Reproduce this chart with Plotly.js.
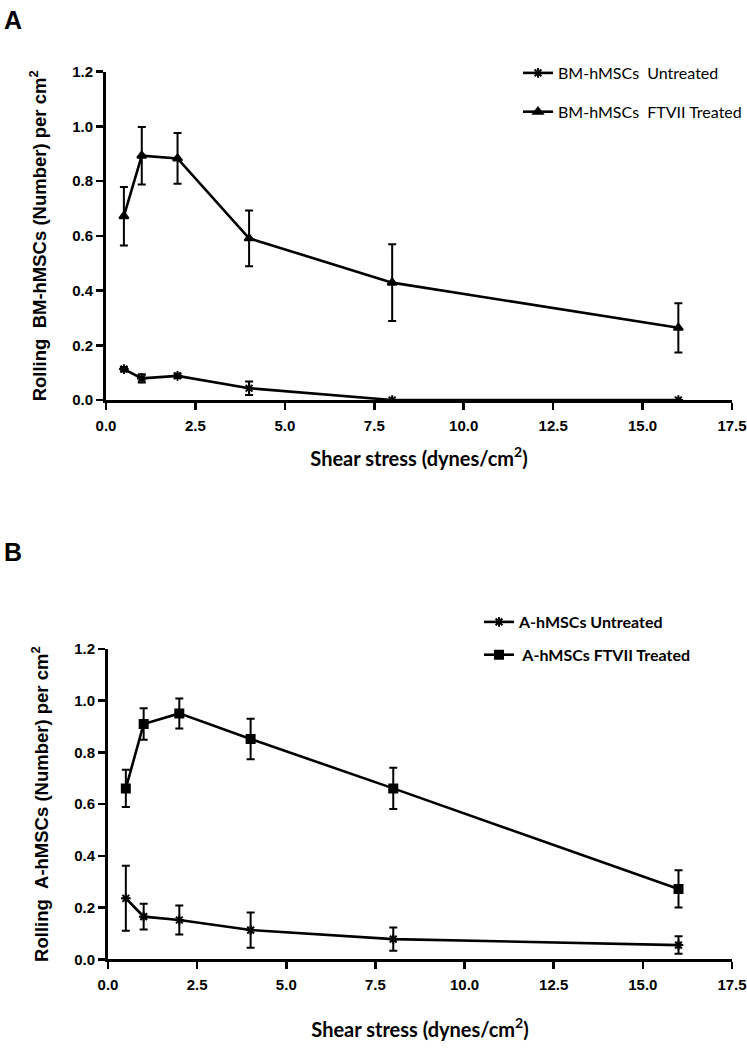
<!DOCTYPE html>
<html>
<head>
<meta charset="utf-8">
<script src="https://cdn.plot.ly/plotly-3.0.1.min.js"></script>
<style>html,body{margin:0;padding:0;background:#fff;}#chart{width:747px;height:1050px;}</style>
</head>
<body>
<div id="chart"></div>
<script>
// Shear stress (dynes/cm2)
var shear = [0.5, 1, 2, 4, 8, 16];

// Panel A: BM-hMSCs
var bmUntreated = [0.113, 0.079, 0.088, 0.043, 0.0, 0.0];
var bmUntreatedErr = [0.008, 0.015, 0.008, 0.025, 0.0, 0.0];
var bmTreated = [0.672, 0.893, 0.883, 0.591, 0.429, 0.264];
var bmTreatedErr = [0.107, 0.105, 0.093, 0.102, 0.140, 0.090];

// Panel B: A-hMSCs
var aUntreated = [0.236, 0.165, 0.152, 0.113, 0.078, 0.055];
var aUntreatedErr = [0.126, 0.050, 0.056, 0.068, 0.045, 0.034];
var aTreated = [0.661, 0.910, 0.951, 0.852, 0.661, 0.272];
var aTreatedErr = [0.072, 0.061, 0.058, 0.078, 0.080, 0.072];

var xTicks = [0, 2.5, 5, 7.5, 10, 12.5, 15, 17.5];
var yTicks = [0, 0.2, 0.4, 0.6, 0.8, 1.0, 1.2];

var W = 747, H = 1050;
function px(v){return v / W;}
function py(v){return 1 - v / H;}

function series(name, y, err, symbol, size, xa, ya, leg, group){
  return {
    x: shear, y: y, name: name, type: 'scatter', mode: 'lines+markers',
    xaxis: xa, yaxis: ya, legend: leg, legendgroup: group,
    line: {color: '#000', width: 2.6},
    marker: {symbol: symbol, size: size, color: '#000', line: {color: '#000', width: 2}},
    error_y: {type: 'data', array: err, visible: true, color: '#000', thickness: 2, width: 4}
  };
}

var data = [
  series('BM-hMSCs  Untreated', bmUntreated, bmUntreatedErr, 'asterisk-open', 8, 'x', 'y', 'legend', 'a1'),
  series('BM-hMSCs  FTVII Treated', bmTreated, bmTreatedErr, 'triangle-up', 8, 'x', 'y', 'legend', 'a2'),
  series('A-hMSCs Untreated', aUntreated, aUntreatedErr, 'asterisk-open', 8, 'x2', 'y2', 'legend2', 'b1'),
  series(' A-hMSCs FTVII Treated', aTreated, aTreatedErr, 'square', 8, 'x2', 'y2', 'legend2', 'b2')
];

var tickFont = {family: 'Liberation Sans, Arial, sans-serif', size: 15, color: '#000', weight: 'bold'};
var yTitleFont = {family: 'Liberation Sans, Arial, sans-serif', size: 18.5, color: '#000', weight: 'bold'};
var xTitleFont = {family: 'Lato, sans-serif', size: 20, color: '#000', weight: 'bold'};

function xaxis(dom, anchor, standoff){
  return {
    domain: dom, anchor: anchor, range: [0, 17.5], tickvals: xTicks, automargin: false,
    ticktext: xTicks.map(function(v){return v.toFixed(1);}),
    showline: true, linecolor: '#000', linewidth: 3, ticks: 'outside', ticklen: 7, tickwidth: 2.5,
    tickcolor: '#000', showgrid: false, zeroline: false, tickfont: tickFont, ticklabelstandoff: 3,
    title: {text: 'Shear stress (dynes/cm<sup>2</sup>)', font: xTitleFont, standoff: standoff}
  };
}
function yaxis(dom, anchor, label){
  return {
    domain: dom, anchor: anchor, range: [0, 1.2], tickvals: yTicks, automargin: false,
    ticktext: yTicks.map(function(v){return v.toFixed(1);}),
    showline: true, linecolor: '#000', linewidth: 3, ticks: 'outside', ticklen: 7, tickwidth: 2.5,
    tickcolor: '#000', showgrid: false, zeroline: false, tickfont: tickFont,
    title: {text: label, font: yTitleFont, standoff: 21}
  };
}

var layout = {
  width: W, height: H, margin: {l: 0, r: 0, t: 0, b: 0, autoexpand: false},
  paper_bgcolor: '#fff', plot_bgcolor: '#fff', showlegend: true,
  xaxis: xaxis([px(106), px(732)], 'y', 19),
  yaxis: yaxis([py(400), py(71.7)], 'x', 'Rolling\u00a0\u00a0BM-hMSCs (Number) per cm<sup>2</sup>'),
  xaxis2: xaxis([px(108), px(732)], 'y2', 31),
  yaxis2: yaxis([py(959.3), py(649)], 'x2', 'Rolling\u00a0\u00a0A-hMSCs (Number) per cm<sup>2</sup>'),
  legend: {x: px(518), y: py(56), xanchor: 'left', yanchor: 'top', bgcolor: 'rgba(0,0,0,0)',
    font: {family: 'Lato, sans-serif', size: 16, color: '#000'}, itemwidth: 30, tracegroupgap: 15},
  legend2: {x: px(479), y: py(605), xanchor: 'left', yanchor: 'top', bgcolor: 'rgba(0,0,0,0)',
    font: {family: 'Lato, sans-serif', size: 16, color: '#000', weight: 'bold'}, itemwidth: 30, tracegroupgap: 9},
  annotations: [
    {text: 'A', x: px(2), y: py(4), xref: 'paper', yref: 'paper', xanchor: 'left', yanchor: 'top', showarrow: false,
      font: {family: 'Liberation Sans, Arial, sans-serif', size: 25, color: '#000', weight: 'bold'}},
    {text: 'B', x: px(2), y: py(536), xref: 'paper', yref: 'paper', xanchor: 'left', yanchor: 'top', showarrow: false,
      font: {family: 'Liberation Sans, Arial, sans-serif', size: 25, color: '#000', weight: 'bold'}}
  ]
};

Plotly.newPlot('chart', data, layout, {displayModeBar: false, staticPlot: true});
</script>
</body>
</html>
